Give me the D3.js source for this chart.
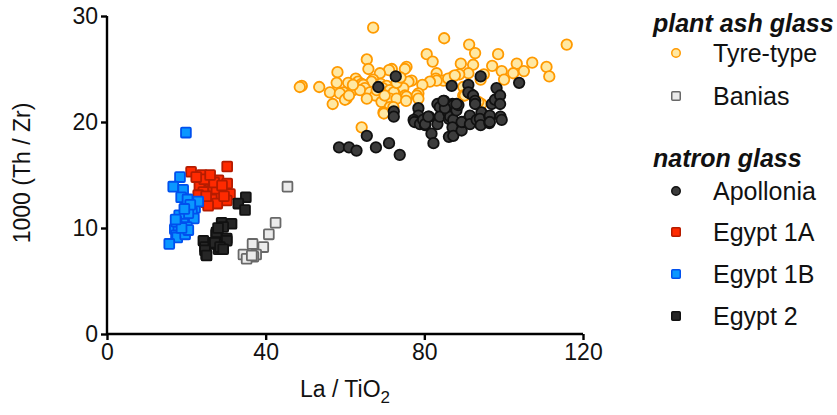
<!DOCTYPE html>
<html>
<head>
<meta charset="utf-8">
<script src="https://cdn.jsdelivr.net/npm/d3@7"></script>
<style>
  html, body { margin: 0; padding: 0; background: #fff; }
  svg { display: block; font-family: "Liberation Sans", Arial, Helvetica, sans-serif; }
</style>
</head>
<body>
<svg id="chart" width="837" height="415"></svg>
<script>
// ---------- data (La/TiO2, 1000 Th/Zr) ----------
const tyreType = [
  [67.1,28.9],[85.0,27.9],[91.3,27.3],[115.9,27.3],[92.8,26.5],[98.6,26.4],[80.6,26.4],[65.5,25.9],[82.1,25.7],[107.2,25.6],
  [89.2,25.5],[92.3,25.4],[103.3,25.5],[97.1,25.3],[110.8,25.2],[75.5,25.2],[65.9,25.0],[71.8,25.0],[75.1,25.0],[71.1,24.9],
  [99.5,24.8],[105.1,24.8],[58.1,24.7],[68.8,24.6],[83.1,24.6],[91.1,24.6],[102.4,24.6],[88.8,24.5],[87.3,24.3],[111.5,24.3],
  [62.7,24.1],[82.9,24.1],[67.1,24.0],[94.2,24.0],[100.1,24.0],[84.8,23.9],[76.8,23.9],[83.1,23.9],[57.9,23.7],[60.8,23.7],
  [63.3,23.8],[66.7,23.8],[76.0,23.8],[81.4,23.8],[64.2,23.6],[69.0,23.6],[64.6,23.5],[79.5,23.5],[70.5,23.4],[49.1,23.4],
  [48.6,23.3],[53.5,23.3],[89.8,23.3],[65.0,23.2],[69.5,23.2],[74.7,23.2],[62.1,23.0],[63.8,23.0],[71.3,23.0],[56.2,22.8],
  [59.6,22.8],[66.3,22.8],[72.3,22.8],[58.7,22.7],[78.5,22.7],[67.6,22.5],[75.1,22.5],[78.1,22.5],[89.8,22.5],[60.4,22.2],
  [60.0,22.1],[65.5,22.2],[71.3,22.2],[73.0,22.2],[78.5,22.2],[75.5,22.4],[75.4,22.0],[56.9,21.7],[69.2,21.9],[94.4,21.7],
  [71.3,21.4],[72.2,21.4],[69.7,20.9],[69.8,20.8],[64.2,19.5],[61.0,22.5],[62.0,23.5],[68.0,23.0],[70.0,22.5],[73.0,23.7],
  [74.0,24.2],[86.0,24.1],[87.7,24.4],[90.2,22.5],[93.6,21.9],[95.0,24.5]
];
const banias = [
  [45.5,13.9],[42.5,10.5],[40.8,9.4],[39.4,8.2],[36.7,8.5],[37.6,7.5],[36.9,7.3],[34.4,7.5],[35.2,7.1],[36.5,7.4]
];
const apollonia = [
  [68.4,23.3],[72.8,24.3],[72.3,21.0],[72.3,20.5],[65.5,18.7],[58.5,17.6],[61.0,17.6],[62.9,17.3],[67.8,17.6],[71.1,18.0],
  [73.8,16.9],[78.5,21.3],[78.5,20.6],[77.3,20.2],[77.5,20.0],[78.9,19.8],[80.2,19.7],[81.2,20.5],[79.7,20.2],[83.3,19.8],
  [81.8,18.9],[82.3,18.0],[83.3,21.7],[83.9,21.4],[83.9,20.5],[85.0,22.0],[86.0,21.1],[86.0,20.9],[86.2,20.3],[86.5,20.5],
  [87.1,21.7],[87.3,21.6],[87.3,19.6],[87.3,20.2],[87.1,19.5],[86.2,18.6],[87.3,18.7],[88.1,21.1],[88.6,21.6],[88.1,21.7],
  [89.4,19.2],[89.8,20.0],[89.4,20.0],[86.9,23.4],[91.1,23.5],[91.5,22.7],[91.1,22.8],[92.3,22.5],[92.8,22.0],[92.8,21.7],
  [91.5,20.6],[91.5,19.8],[93.2,20.2],[94.2,24.3],[94.4,20.9],[94.0,20.3],[94.2,19.7],[96.4,20.5],[96.5,20.6],[96.4,19.9],
  [96.5,20.0],[97.0,21.7],[97.8,22.1],[98.2,23.2],[99.1,22.5],[99.1,21.7],[99.2,20.5],[99.5,20.2],[103.9,23.7],[85.2,21.3],
  [84.8,22.0],[80.2,19.8],[81.0,20.5]
];
const egypt1A = [
  [21.2,15.3],[23.9,15.0],[30.3,15.8],[26.0,14.4],[28.1,14.5],[30.3,14.2],[23.3,14.0],[24.3,13.4],[26.8,13.9],[28.5,13.1],
  [31.0,13.2],[26.4,12.7],[25.1,12.4],[30.2,12.6],[27.8,12.3],[23.0,13.1],[27.6,13.7],[25.5,12.1],[24.5,14.6],[27.0,14.3],
  [29.0,14.0],[25.0,13.0],[22.5,14.8],[26.0,15.0],[29.5,13.0]
];
const egypt1B = [
  [19.9,19.0],[18.4,14.8],[16.7,13.9],[19.2,13.6],[18.7,12.9],[20.3,12.7],[22.2,11.9],[21.4,11.5],[21.9,10.9],[20.5,11.4],
  [18.2,11.2],[19.2,10.4],[20.1,10.1],[17.6,10.2],[17.1,9.9],[18.0,9.7],[17.4,9.3],[17.7,9.1],[15.7,8.5],[19.7,9.4],
  [20.5,9.8],[23.0,12.5],[21.0,12.2],[17.5,10.6],[18.8,10.0],[17.3,10.8],[19.5,11.8]
];
const egypt2 = [
  [35.0,12.9],[33.1,12.3],[34.8,11.7],[28.9,10.5],[31.4,10.4],[29.3,10.1],[27.5,9.4],[30.2,9.0],[28.5,8.5],[26.4,8.6],
  [24.3,8.8],[24.7,8.2],[25.0,7.5],[28.1,8.0],[26.8,8.5],[27.6,9.6],[27.2,8.6],[24.7,7.9],[25.1,7.4],[30.2,8.8],
  [28.5,8.2],[29.3,8.0],[28.0,10.0]
];
const xTicks = [0, 40, 80, 120];
const yTicks = [0, 10, 20, 30];
const groupLabels = ["plant ash glass", "natron glass"];
const seriesNames = ["Tyre-type", "Banias", "Apollonia", "Egypt 1A", "Egypt 1B", "Egypt 2"];

// ---------- styles ----------
const series = [
  {name: seriesNames[0], data: tyreType,  shape: "circle", fill: "#FFE8A3", stroke: "#FF9A00"},
  {name: seriesNames[1], data: banias,    shape: "square", fill: "#EBEBEB", stroke: "#686868"},
  {name: seriesNames[2], data: apollonia, shape: "circle", fill: "#3C3C3C", stroke: "#111111"},
  {name: seriesNames[3], data: egypt1A,   shape: "square", fill: "#FF2A00", stroke: "#B51C00"},
  {name: seriesNames[4], data: egypt1B,   shape: "square", fill: "#0A97FF", stroke: "#0050EE"},
  {name: seriesNames[5], data: egypt2,    shape: "square", fill: "#262626", stroke: "#111111"}
];

const svg = d3.select("#chart");
const x = d3.scaleLinear().domain([0, 120]).range([107, 583]);
const y = d3.scaleLinear().domain([0, 30]).range([334, 16]);

// axes
const xAxis = svg.append("g").attr("transform", "translate(0,334)")
  .call(d3.axisBottom(x).tickValues(xTicks).tickSize(6).tickPadding(4));
const yAxis = svg.append("g").attr("transform", "translate(107,0)")
  .call(d3.axisLeft(y).tickValues(yTicks).tickSize(6).tickPadding(3));
[xAxis, yAxis].forEach(g => {
  g.select(".domain").attr("stroke", "#000").attr("stroke-width", 2.4);
  g.selectAll(".tick line").attr("stroke", "#000").attr("stroke-width", 2.4);
  g.selectAll(".tick text").attr("font-size", 23).attr("fill", "#111")
    .attr("font-family", "'Liberation Sans', Arial, sans-serif");
});
xAxis.select(".domain").attr("d", "M107,0H583");
yAxis.select(".domain").attr("d", "M0,16V334");

// axis titles
svg.append("text").attr("x", 345).attr("y", 397).attr("text-anchor", "middle")
  .attr("font-size", 23).attr("fill", "#111")
  .html('La / TiO<tspan dy="6" font-size="17">2</tspan>');
svg.append("text").attr("transform", "translate(30,173) rotate(-90)")
  .attr("text-anchor", "middle").attr("font-size", 23).attr("fill", "#111")
  .text("1000 (Th / Zr)");

// markers
function drawMarker(sel, shape, fill, stroke, size, sw) {
  if (shape === "circle") {
    sel.append("circle").attr("r", size / 2).attr("fill", fill).attr("stroke", stroke).attr("stroke-width", sw);
  } else {
    sel.append("rect").attr("x", -size / 2).attr("y", -size / 2).attr("width", size).attr("height", size)
      .attr("rx", 1).attr("fill", fill).attr("stroke", stroke).attr("stroke-width", sw);
  }
}
series.forEach(s => {
  const g = svg.append("g");
  s.data.forEach(d => {
    const m = g.append("g").attr("transform", `translate(${x(d[0])},${y(d[1])})`);
    drawMarker(m, s.shape, s.fill, s.stroke, s.shape === "circle" ? 10.5 : 9.8, 1.8);
  });
});

// legend
const lg = svg.append("g");
lg.append("text").attr("x", 653).attr("y", 32).attr("font-size", 25).attr("font-weight", "bold")
  .attr("font-style", "italic").attr("fill", "#111").text(groupLabels[0]);
lg.append("text").attr("x", 653).attr("y", 167).attr("font-size", 25).attr("font-weight", "bold")
  .attr("font-style", "italic").attr("fill", "#111").text(groupLabels[1]);
const legendY = [53, 96, 191, 232, 274, 316];
series.forEach((s, i) => {
  const m = lg.append("g").attr("transform", `translate(676,${legendY[i]})`);
  drawMarker(m, s.shape, s.fill, s.stroke, 8.5, 1.5);
  lg.append("text").attr("x", 713).attr("y", legendY[i] + 8.5).attr("font-size", 25).attr("fill", "#111").text(s.name);
});
</script>
</body>
</html>
